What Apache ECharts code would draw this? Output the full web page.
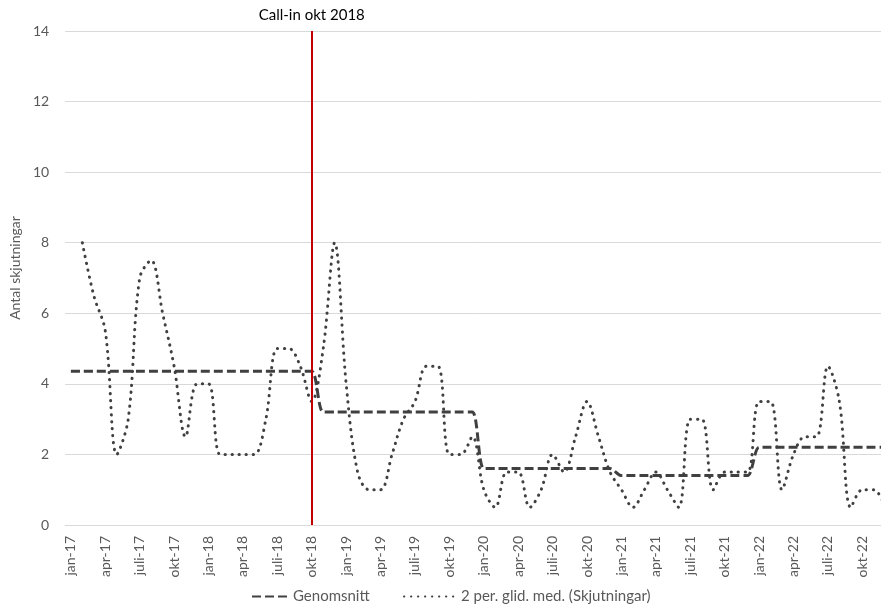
<!DOCTYPE html>
<html>
<head>
<meta charset="utf-8">
<script src="https://cdn.jsdelivr.net/npm/echarts@6/dist/echarts.min.js"></script>
<style>
  html, body { margin: 0; padding: 0; background: #fff; overflow: hidden; }
  /* chart area runs a little past the right window edge, like the cropped original */
  #chart { width: 891px; height: 614px; }
</style>
</head>
<body>
<div id="chart"></div>
<script>
// månader jan-17 .. dec-22
var months = ['jan','feb','mar','apr','maj','juni','juli','aug','sep','okt','nov','dec'];
var years = ['17','18','19','20','21','22'];
var categories = [];
years.forEach(function (y) {
  months.forEach(function (m) { categories.push(m + '-' + y); });
});

// Genomsnitt per period
var genomsnitt = [
  4.36, 4.36, 4.36, 4.36, 4.36, 4.36, 4.36, 4.36, 4.36, 4.36, 4.36, 4.36,
  4.36, 4.36, 4.36, 4.36, 4.36, 4.36, 4.36, 4.36, 4.36, 4.36, 3.2, 3.2,
  3.2, 3.2, 3.2, 3.2, 3.2, 3.2, 3.2, 3.2, 3.2, 3.2, 3.2, 3.2,
  1.6, 1.6, 1.6, 1.6, 1.6, 1.6, 1.6, 1.6, 1.6, 1.6, 1.6, 1.6,
  1.4, 1.4, 1.4, 1.4, 1.4, 1.4, 1.4, 1.4, 1.4, 1.4, 1.4, 1.4,
  2.2, 2.2, 2.2, 2.2, 2.2, 2.2, 2.2, 2.2, 2.2, 2.2, 2.2, 2.2
];

// 2 per. glid. med. (Skjutningar)
var glidMed = [
  null, 8, 6.5, 5.5, 2, 3, 7, 7.5, 6, 4.5, 2.5, 4,
  4, 2, 2, 2, 2, 3, 5, 5, 4.5, 3.5, 5, 8,
  4, 1.5, 1, 1, 2, 3, 3.5, 4.5, 4.5, 2, 2, 2.5,
  1, 0.5, 1.5, 1.5, 0.5, 1, 2, 1.5, 2.5, 3.5, 2.5, 1.5,
  1, 0.5, 1, 1.5, 1, 0.5, 3, 3, 1, 1.5, 1.5, 1.5,
  3.5, 3.5, 1, 2, 2.5, 2.5, 4.5, 3.5, 0.5, 1, 1, 0.5
];

var callIn = 'okt-18';

var chart = echarts.init(document.getElementById('chart'));
var font = 'Lato, "Open Sans", sans-serif';

// gemensam stil för förklaringen
var legendText = { color: '#595959', fontSize: 15, fontFamily: font };

var option = {
  animation: false,
  textStyle: { fontFamily: font },
  grid: { left: 63, top: 31, bottom: 89, right: 0 },
  legend: [
    {
      bottom: 5,
      left: 246,
      itemWidth: 36,
      itemHeight: 12,
      itemStyle: { opacity: 0 },
      textStyle: legendText,
      data: ['Genomsnitt']
    },
    {
      bottom: 5,
      left: 398,
      itemWidth: 52,
      itemHeight: 12,
      itemStyle: { opacity: 0 },
      textStyle: legendText,
      data: ['2 per. glid. med. (Skjutningar)']
    }
  ],
  xAxis: {
    type: 'category',
    data: categories,
    boundaryGap: true,
    axisLine: { lineStyle: { color: '#D9D9D9' } },
    axisTick: { show: false },
    axisLabel: {
      interval: 2,
      rotate: 90,
      margin: 11,
      color: '#595959',
      fontSize: 14,
      fontFamily: font
    }
  },
  yAxis: {
    type: 'value',
    min: 0,
    max: 14,
    interval: 2,
    name: 'Antal skjutningar',
    nameLocation: 'middle',
    nameGap: 39,
    nameTextStyle: { color: '#595959', fontSize: 14, fontFamily: font, padding: [0, 0, 0, 20] },
    axisLine: { show: false },
    axisTick: { show: false },
    axisLabel: { color: '#595959', fontSize: 14, margin: 16, fontFamily: font },
    splitLine: { lineStyle: { color: '#D9D9D9' } }
  },
  series: [
    {
      name: 'Genomsnitt',
      type: 'line',
      data: genomsnitt,
      symbol: 'none',
      smooth: 0.3,
      itemStyle: { color: '#404040' },
      lineStyle: { color: '#404040', width: 3, type: [9, 4] },
      z: 3
    },
    {
      name: '2 per. glid. med. (Skjutningar)',
      type: 'line',
      data: glidMed,
      symbol: 'none',
      smooth: 0.35,
      itemStyle: { color: '#404040' },
      lineStyle: { color: '#404040', width: 3, type: [0.3, 6.7], cap: 'round' },
      z: 4,
      markLine: {
        silent: true,
        symbol: 'none',
        lineStyle: { color: '#C00000', width: 2, type: 'solid' },
        label: {
          show: true,
          position: 'end',
          formatter: 'Call-in okt 2018',
          color: '#000',
          fontSize: 15,
          fontFamily: font,
          distance: 8
        },
        data: [{ xAxis: callIn }]
      }
    }
  ]
};

chart.setOption(option);
</script>
</body>
</html>
